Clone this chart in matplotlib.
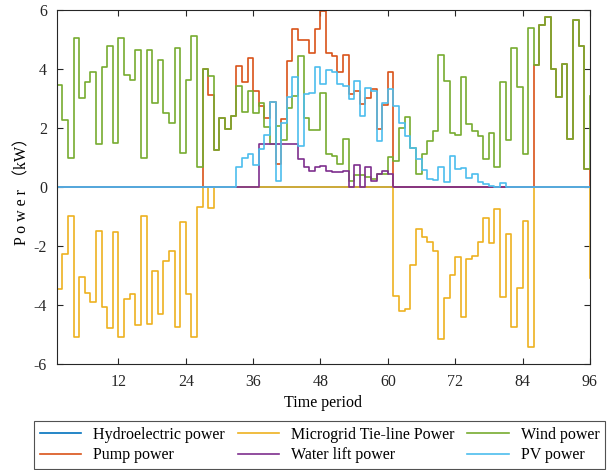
import numpy as np
import matplotlib
matplotlib.use('Agg')
import matplotlib.pyplot as plt
from matplotlib.lines import Line2D

plt.rcParams['font.family'] = ['Liberation Serif', 'Noto Sans CJK SC']

# periods 1..96 (stairs, MATLAB style)
t = np.arange(1, 97)

hydro = [0.0] * 96

wind = [3.45, 2.27, 0.97, 5.06, 3.00, 3.57, 3.88, 1.47, 4.05, 4.78,
        1.50, 5.06, 3.80, 3.62, 4.64, 0.99, 4.64, 2.85, 4.30, 2.49,
        2.16, 4.72, 1.16, 3.62, 5.10, 0.66, 4.01, 3.76, 1.24, 2.33,
        1.98, 2.41, 3.42, 2.55, 3.25, 2.52, 2.86, 2.03, 1.47, 2.07,
        1.58, 2.69, 3.08, 4.44, 2.33, 1.92, 1.92, 3.20, 1.13, 1.05,
        0.79, 1.62, 0.20, 0.41, 0.41, 0.32, 0.26, 0.43, 0.45, 1.02,
        0.88, 2.01, 2.37, 1.31, 0.43, 1.13, 1.56, 1.90, 4.47, 3.59,
        1.82, 1.76, 3.74, 2.12, 1.88, 1.71, 0.95, 1.84, 0.69, 3.57,
        1.58, 4.72, 3.39, 1.13, 5.40, 4.14, 5.48, 5.77, 4.01, 3.06,
        4.18, 1.62, 5.66, 4.76, 0.60, 3.08]

tie = [-3.47, -2.28, -0.98, -5.07, -3.04, -3.58, -3.89, -1.49, -4.07, -4.79,
       -1.51, -5.07, -3.80, -3.64, -4.68, -1.00, -4.66, -2.85, -4.32, -2.50,
       -2.17, -4.73, -1.19, -3.64, -5.10, -0.68, 0.00, -0.70, 0.00, 0.00,
       0.00, 0.00, 0.00, 0.00, 0.00, 0.00, 0.00, 0.00, 0.00, 0.00,
       0.00, 0.00, 0.00, 0.00, 0.00, 0.00, 0.00, 0.00, 0.00, 0.00,
       0.00, 0.00, 0.00, 0.00, 0.00, 0.00, 0.00, 0.00, 0.00, 0.00,
       -3.69, -4.20, -4.15, -2.66, -1.44, -1.69, -1.85, -2.17, -5.14, -3.77,
       -2.98, -2.36, -4.40, -2.45, -2.34, -1.86, -1.04, -1.89, -0.76, -3.73,
       -1.60, -4.73, -3.41, -1.15, -5.41, 0.00, 0.00, 0.00, 0.00, 0.00,
       0.00, 0.00, 0.00, 0.00, 0.00, -3.08]

pump = [0, 0, 0, 0, 0, 0, 0, 0, 0, 0,
        0, 0, 0, 0, 0, 0, 0, 0, 0, 0,
        0, 0, 0, 0, 0, 0, 4.01, 3.10, 1.24, 2.33,
        1.98, 2.41, 4.10, 3.54, 4.38, 3.25, 2.75, 2.33, 2.89, 0.79,
        2.29, 4.27, 5.34, 4.99, 4.99, 4.55, 5.34, 5.97, 4.55, 4.44,
        3.88, 4.47, 3.16, 3.26, 2.82, 3.00, 3.31, 1.98, 2.77, 3.90,
        0, 0, 0, 0, 0, 0, 0, 0, 0, 0,
        0, 0, 0, 0, 0, 0, 0, 0, 0, 0,
        0, 0, 0, 0, 0, 4.14, 5.48, 5.77, 4.01, 3.06,
        4.18, 1.62, 5.66, 4.76, 0.60, 0]

lift = [0] * 36 + [1.47, 1.47, 1.47, 1.47, 1.47, 1.47, 1.47, 0.95, 0.66, 0.54,
                  0.66, 0.71, 0.54, 0.52, 0.49, 0.54, 0.00, 0.75, 0.00, 0.66,
                  0.20, 0.43, 0.54, 0.43] + [0] * 36

pv = [0] * 32 + [0.66, 0.97, 1.13, 0.73, 1.30, 1.76, 2.89, 0.20,
                 2.18, 3.05, 3.73, 1.39, 3.16, 3.20, 4.05, 3.50, 3.95, 3.88,
                 3.50, 3.42, 2.97, 3.60, 2.41, 3.34, 3.25, 1.56, 2.86, 3.31,
                 2.75, 2.18, 1.73, 1.31, 0.94, 0.56, 0.26, 0.23, 0.66, 0.18,
                 1.05, 0.60, 0.63, 0.29, 0.43, 0.18, 0.09, 0.03, 0.00, 0.12] + [0] * 16

c_hydro = '#0072BD'
c_tie = '#EDB120'
c_wind = '#77AC30'
c_pump = '#D95319'
c_lift = '#7E2F8E'
c_pv = '#4DBEEE'

fig = plt.figure(figsize=(6.1, 4.7), dpi=100)
ax = fig.add_axes([0.093, 0.2255, 0.874, 0.7535])

lw = 1.2
ax.step(t, hydro, where='post', color=c_hydro, lw=lw)
ax.step(t, pump, where='post', color=c_pump, lw=lw)
ax.step(t, tie, where='post', color=c_tie, lw=lw)
ax.step(t, wind, where='post', color=c_wind, lw=lw)
ax.step(t, lift, where='post', color=c_lift, lw=lw)
ax.step(t, pv, where='post', color=c_pv, lw=lw)

ax.set_xlim(1, 96)
ax.set_ylim(-6, 6)
ax.set_xticks(np.arange(12, 97, 12))
ax.set_yticks(np.arange(-6, 7, 2))
ax.set_yticklabels(['-6', '-4', '-2', '0', '2', '4', '6'])
ax.tick_params(direction='in', top=True, right=True, length=4, width=0.8,
               labelsize=11.5, colors='#262626', pad=7)
for s in ax.spines.values():
    s.set_color('#262626')
    s.set_linewidth(0.8)

ax.set_xlabel('Time period', fontsize=11.5, labelpad=4)
ax.set_ylabel('P o w e r （kW）', fontsize=11.5, labelpad=2)

# legend: 3 columns, rows read Hydro/Tie/Wind then Pump/Lift/PV
handles = [Line2D([], [], color=c, lw=lw) for c in
           [c_hydro, c_pump, c_tie, c_lift, c_wind, c_pv]]
labels = ['Hydroelectric power', 'Pump power', 'Microgrid Tie-line Power',
          'Water lift power', 'Wind power', 'PV power']
leg = fig.legend(handles, labels, ncol=3, loc='upper left',
                 bbox_to_anchor=(34 / 610, 1 - 421 / 470),
                 fontsize=11.5, handlelength=2.6, handletextpad=0.75,
                 frameon=True, fancybox=False, borderpad=0.35,
                 borderaxespad=0, labelspacing=0.3, columnspacing=0.8)
leg.get_frame().set_edgecolor('#262626')
leg.get_frame().set_linewidth(0.8)

fig.savefig('out.png', dpi=100)
